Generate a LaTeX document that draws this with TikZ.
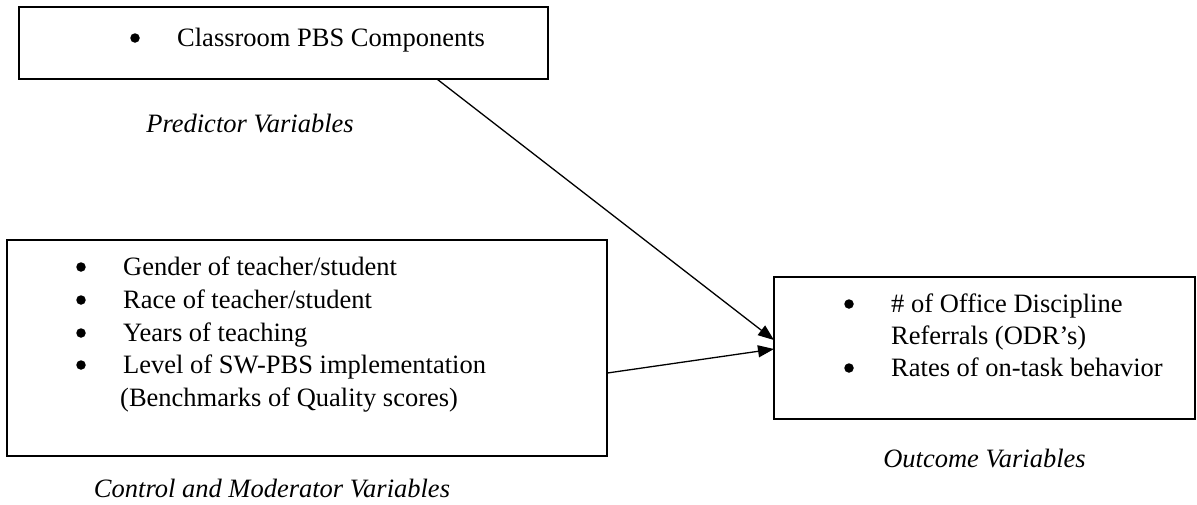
\documentclass[tikz,border=0pt]{standalone}
\usepackage{fontspec}
\setmainfont{Liberation Serif}
\usetikzlibrary{arrows.meta,calc}
\tikzset{
  box/.style={draw, line width=1.3pt, inner sep=0pt, outer sep=0pt},
  item/.style={anchor=base west, inner sep=0pt, font=\fontsize{26.5}{33}\selectfont},
  bul/.style={circle, fill=black, inner sep=0pt, minimum size=9.5pt},
  lbl/.style={anchor=base, inner sep=0pt, font=\fontsize{26.5}{33}\selectfont\itshape},
  conn/.style={line width=1.3pt, -{Triangle[length=16pt,width=12pt]}}
}
\begin{document}
\begin{tikzpicture}[x=1pt,y=-1pt]
\useasboundingbox (0,0) rectangle (1197,504);
% boxes
\node[box, minimum width=529pt, minimum height=72pt] (top) at (283.5,43) {};
\node[box, minimum width=600pt, minimum height=216pt] (ctl) at (307,348) {};
\node[box, minimum width=421pt, minimum height=142pt] (out) at (984.5,348) {};
% top box text
\node[bul] (b1) at (135,38) {};
\node[item] (t1) at (177,46) {Classroom PBS Components};
% control box text
\node[bul] (b2) at (81,267) {};
\node[item] (t2) at (123,275) {Gender of teacher/student};
\node[bul] (b3) at (81,300) {};
\node[item] (t3) at (123,308) {Race of teacher/student};
\node[bul] (b4) at (81,333) {};
\node[item] (t4) at (123,341) {Years of teaching};
\node[bul] (b5) at (81,365) {};
\node[item] (t5) at (123,373) {Level of SW-PBS implementation};
\node[item] (t6) at (120,406) {(Benchmarks of Quality scores)};
% outcome box text
\node[bul] (b6) at (849,304) {};
\node[item] (t7) at (891,312) {\# of Office Discipline};
\node[item] (t8) at (891,344) {Referrals (ODR’s)};
\node[bul] (b7) at (849,368) {};
\node[item] (t9) at (891,376) {Rates of on-task behavior};
% labels
\node[lbl] (l1) at (250,132) {Predictor Variables};
\node[lbl] (l2) at (272,497) {Control and Moderator Variables};
\node[lbl] (l3) at (984.5,467) {Outcome Variables};
% connectors
\draw[conn] ($(top.south west)!0.79!(top.south east)$) -- ($(out.north west)!0.444!(out.south west)$);
\draw[conn] ($(ctl.north east)!0.616!(ctl.south east)$) -- ($(out.north west)!0.507!(out.south west)$);
\end{tikzpicture}
\end{document}
